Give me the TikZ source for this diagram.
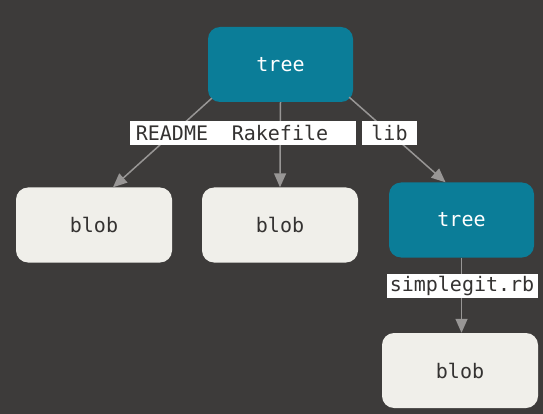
\documentclass[tikz,border=0pt]{standalone}
\usepackage{fontspec}
\setmonofont{DejaVu Sans Mono}
\usetikzlibrary{arrows.meta}
\definecolor{bg}{RGB}{61,59,58}
\definecolor{treeblue}{RGB}{11,125,152}
\definecolor{blobwhite}{RGB}{240,239,234}
\definecolor{edgegray}{RGB}{152,150,149}
\definecolor{txtdark}{RGB}{52,50,49}
\newcommand{\gitfont}{\ttfamily\fontsize{20}{22}\selectfont}

\begin{document}
\begin{tikzpicture}[x=1pt,y=-1pt,
    treenode/.style={fill=treeblue, rounded corners=12pt, minimum width=145pt, minimum height=75pt, text=white, font=\gitfont},
    blobnode/.style={fill=blobwhite, rounded corners=12pt, minimum width=156pt, minimum height=75pt, text=txtdark, font=\gitfont},
    namebox/.style={fill=white, minimum height=24pt, inner sep=0pt, text=txtdark, font=\gitfont},
    link/.style={draw=edgegray, line width=1.5pt, -{Triangle[length=14pt,width=12pt]}}]
    \fill[bg] (0,0) rectangle (543,414);
    \useasboundingbox (0,0) rectangle (543,414);
    \node[treenode] (root) at (280.5,64.5) {tree};
    \node[blobnode] (readme) at (94,225) {blob};
    \node[blobnode] (rakefile) at (280,225) {blob};
    \node[treenode] (lib) at (461.5,220) {tree};
    \node[blobnode] (simplegit) at (460,370.5) {blob};
    \draw[link] ([shift={(4,-4)}]root.south west) -- ([xshift=19pt]readme.north);
    \draw[link] (root.south) -- (rakefile.north);
    \draw[link] ([shift={(-4,-5)}]root.south east) -- ([xshift=-16pt]lib.north);
    \draw[link] (lib.south) -- (lib.south |- simplegit.north);
    \node[namebox, minimum width=152pt] (rakefilename) at (280,133) {Rakefile};
    \node[namebox, minimum width=84pt] (readmename) at (172,133) {README};
    \node[namebox, minimum width=55pt] (libname) at (389.5,133) {lib};
    \node[namebox, minimum width=151pt] (simplegitname) at (462,285.5) {simplegit.rb};
\end{tikzpicture}
\end{document}
